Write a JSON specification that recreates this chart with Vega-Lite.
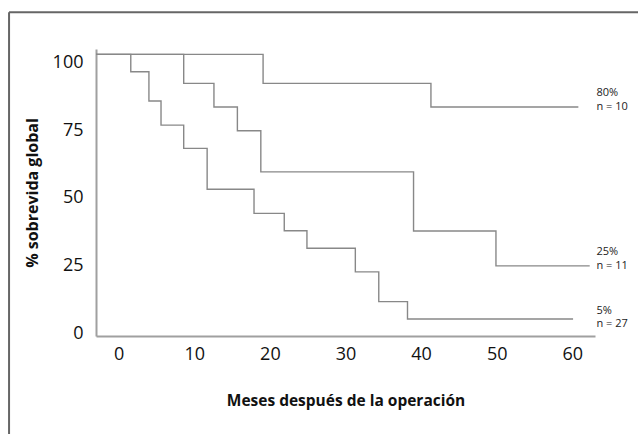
{
  "$schema": "https://vega.github.io/schema/vega-lite/v6.json",
  "width": 499,
  "height": 287,
  "autosize": {"type": "none"},
  "padding": {"left": 96, "top": 49, "right": 43, "bottom": 98},
  "background": "white",
  "config": {
    "view": {"stroke": null},
    "font": "Open Sans",
    "axis": {
      "grid": false,
      "ticks": false,
      "tickSize": 0,
      "domainColor": "#a0a0a0",
      "domainWidth": 2,
      "labelFont": "Open Sans",
      "labelFontSize": 18,
      "labelColor": "#111",
      "titleFont": "Open Sans",
      "titleFontWeight": "bold",
      "titleColor": "#111"
    }
  },
  "datasets": {
    "curvas": [
      {"grupo": "A", "mes": -3, "sv": 103},
      {"grupo": "A", "mes": 19.1, "sv": 92.3},
      {"grupo": "A", "mes": 41.3, "sv": 83.6},
      {"grupo": "A", "mes": 60.8, "sv": 83.6},
      {"grupo": "B", "mes": -3, "sv": 103},
      {"grupo": "B", "mes": 8.6, "sv": 92.3},
      {"grupo": "B", "mes": 12.6, "sv": 83.6},
      {"grupo": "B", "mes": 15.7, "sv": 74.8},
      {"grupo": "B", "mes": 18.8, "sv": 59.6},
      {"grupo": "B", "mes": 39.0, "sv": 37.8},
      {"grupo": "B", "mes": 49.9, "sv": 24.9},
      {"grupo": "B", "mes": 62.3, "sv": 24.9},
      {"grupo": "C", "mes": -3, "sv": 103},
      {"grupo": "C", "mes": 1.6, "sv": 96.6},
      {"grupo": "C", "mes": 4.0, "sv": 85.8},
      {"grupo": "C", "mes": 5.6, "sv": 76.9},
      {"grupo": "C", "mes": 8.6, "sv": 68.3},
      {"grupo": "C", "mes": 11.7, "sv": 53.2},
      {"grupo": "C", "mes": 17.9, "sv": 44.3},
      {"grupo": "C", "mes": 21.9, "sv": 37.9},
      {"grupo": "C", "mes": 24.9, "sv": 31.4},
      {"grupo": "C", "mes": 31.3, "sv": 22.7},
      {"grupo": "C", "mes": 34.4, "sv": 11.7},
      {"grupo": "C", "mes": 38.2, "sv": 5.3},
      {"grupo": "C", "mes": 60.1, "sv": 5.3}
    ],
    "etiquetas": [
      {"grupo": "A", "pct": "80%", "n": "n = 10", "sv": 83.6},
      {"grupo": "B", "pct": "25%", "n": "n = 11", "sv": 25.0},
      {"grupo": "C", "pct": "5%", "n": "n = 27", "sv": 3.4}
    ]
  },
  "layer": [
    {
      "data": {"name": "curvas"},
      "mark": {"type": "line", "interpolate": "step-after", "color": "#888888", "strokeWidth": 1.4},
      "encoding": {
        "x": {
          "field": "mes", "type": "quantitative",
          "scale": {"domain": [-3, 63], "nice": false, "zero": false},
          "axis": {"values": [0, 10, 20, 30, 40, 50, 60], "labelPadding": 9, "titlePadding": 30, "titleFontSize": 15.5, "title": "Meses después de la operación", "labelFlush": false}
        },
        "y": {
          "field": "sv", "type": "quantitative",
          "scale": {"domain": [-1, 105], "nice": false, "zero": false},
          "axis": {"values": [0, 25, 50, 75, 100], "labelPadding": 13, "titlePadding": 12, "titleFontSize": 16, "title": "% sobrevida global", "labelFlush": false}
        },
        "detail": {"field": "grupo"}
      }
    },
    {
      "data": {"name": "etiquetas"},
      "mark": {"type": "text", "align": "left", "baseline": "middle", "fontSize": 11, "color": "#222"},
      "encoding": {
        "x": {"datum": 63.2, "type": "quantitative"},
        "y": {"field": "sv", "type": "quantitative"},
        "text": {"field": "n"}
      }
    },
    {
      "data": {"name": "etiquetas"},
      "mark": {"type": "text", "align": "left", "baseline": "middle", "fontSize": 11, "color": "#222", "dy": -13.5},
      "encoding": {
        "x": {"datum": 63.2, "type": "quantitative"},
        "y": {"field": "sv", "type": "quantitative"},
        "text": {"field": "pct"}
      }
    },
    {
      "data": {"values": [{"marco": "izq"}]},
      "mark": {"type": "rule", "color": "#666", "strokeWidth": 2, "clip": false},
      "encoding": {
        "x": {"datum": -14.5, "type": "quantitative"},
        "y": {"datum": 118.6, "type": "quantitative"},
        "y2": {"datum": -60}
      }
    },
    {
      "data": {"values": [{"marco": "sup"}]},
      "mark": {"type": "rule", "color": "#666", "strokeWidth": 2, "clip": false},
      "encoding": {
        "y": {"datum": 118.6, "type": "quantitative"},
        "x": {"datum": -14.5, "type": "quantitative"},
        "x2": {"datum": 80}
      }
    }
  ]
}
